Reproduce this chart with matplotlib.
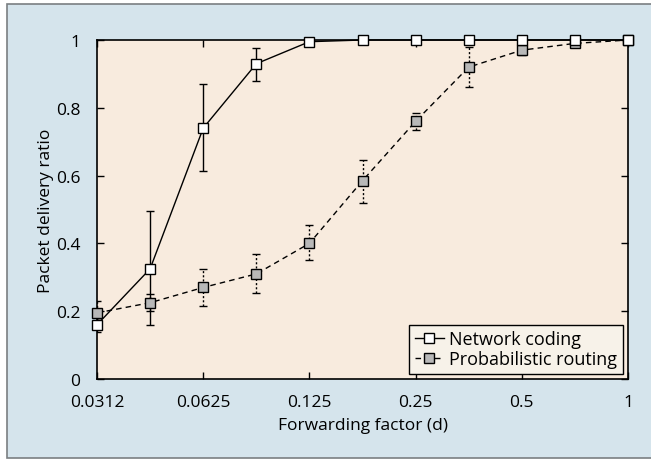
import numpy as np
import matplotlib.pyplot as plt
from matplotlib.patches import Rectangle

plt.rcParams['font.family'] = ['Open Sans', 'DejaVu Sans']

# forwarding factor d = 2^-5 ... 2^0 in half steps
d = [0.03125, 0.0442, 0.0625, 0.0884, 0.125, 0.1768, 0.25, 0.3536, 0.5, 0.7071, 1.0]
xticks = [0.03125, 0.0625, 0.125, 0.25, 0.5, 1.0]
xticklabels = ['0.0312', '0.0625', '0.125', '0.25', '0.5', '1']

nc = [0.16, 0.325, 0.74, 0.93, 0.995, 1.0, 1.0, 1.0, 1.0, 1.0, 1.0]
nc_lo = [0.14, 0.16, 0.615, 0.88, 0.99, 0.995, 0.99, 0.99, 0.99, 0.995, 0.995]
nc_hi = [0.18, 0.495, 0.87, 0.975, 1.0, 1.005, 1.005, 1.005, 1.005, 1.005, 1.005]

pr = [0.195, 0.225, 0.27, 0.31, 0.40, 0.585, 0.76, 0.92, 0.97, 0.99, 1.0]
pr_lo = [0.175, 0.20, 0.215, 0.255, 0.35, 0.52, 0.735, 0.86, 0.955, 0.98, 0.99]
pr_hi = [0.23, 0.25, 0.325, 0.37, 0.455, 0.645, 0.785, 0.98, 0.985, 1.0, 1.005]

fig = plt.figure(figsize=(6.51, 4.60), dpi=100, facecolor='white')
# panel background with thin grey frame
fig.add_artist(Rectangle((7 / 651, 1.5 / 460), 1.0, 453.5 / 460, transform=fig.transFigure,
                         facecolor='#d5e4ec', edgecolor='#7a7f82', linewidth=1.2, zorder=-10))

ax = fig.add_axes([97 / 651, 1 - 380 / 460, 531 / 651, 339 / 460])
ax.set_facecolor('#f8ebde')
ax.set_xscale('log', base=2)

# error bars
nc_err = [np.array(nc) - np.array(nc_lo), np.array(nc_hi) - np.array(nc)]
pr_err = [np.array(pr) - np.array(pr_lo), np.array(pr_hi) - np.array(pr)]
eb = ax.errorbar(d, pr, yerr=pr_err, fmt='none', ecolor='black', elinewidth=1, capsize=3, zorder=2)
eb[2][0].set_linestyle((0, (1.5, 1.5)))
ax.errorbar(d, nc, yerr=nc_err, fmt='none', ecolor='black', elinewidth=1, capsize=3, zorder=3)

ax.plot(d, nc, '-', color='black', linewidth=1, marker='s', markersize=7,
        markerfacecolor='white', markeredgecolor='black', label='Network coding',
        zorder=4, clip_on=False)
ax.plot(d, pr, '--', color='black', linewidth=1, dashes=(4, 3), marker='s', markersize=7,
        markerfacecolor='#b8b8b8', markeredgecolor='black', label='Probabilistic routing',
        zorder=3, clip_on=False)

ax.set_xlim(0.03125, 1.0)
ax.set_ylim(0, 1)
ax.set_xticks(xticks)
ax.set_xticklabels(xticklabels)
ax.minorticks_off()
ax.set_yticks([0, 0.2, 0.4, 0.6, 0.8, 1.0])
ax.set_yticklabels(['0', '0.2', '0.4', '0.6', '0.8', '1'])
ax.tick_params(direction='in', length=5, width=1, top=True, right=True, labelsize=12.5)
ax.tick_params(axis='x', pad=11)
ax.tick_params(axis='y', pad=12)
for s in ax.spines.values():
    s.set_linewidth(1.2)

ax.set_xlabel('Forwarding factor (d)', fontsize=12.5, labelpad=5)
ax.set_ylabel('Packet delivery ratio', fontsize=12.5, labelpad=1.5)

leg = ax.legend(loc='lower right', fontsize=13, handlelength=1.6, handletextpad=0.3,
                borderpad=0.3, labelspacing=0.1, fancybox=False, framealpha=1,
                edgecolor='black', facecolor='#f7f2e9', borderaxespad=0.3)
leg.get_frame().set_linewidth(1)

fig.savefig('out.png', dpi=100, facecolor=fig.get_facecolor())
